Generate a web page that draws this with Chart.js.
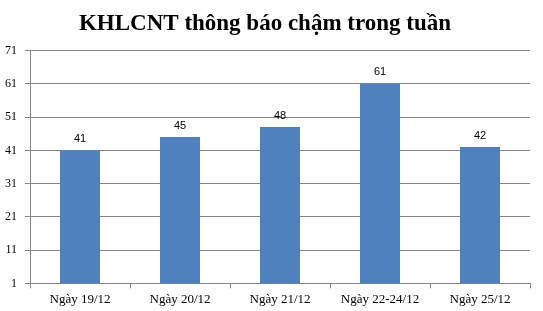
<!DOCTYPE html>
<html>
<head>
<meta charset="utf-8">
<script src="https://cdn.jsdelivr.net/npm/chart.js@4/dist/chart.umd.min.js"></script>
<style>
  html, body { margin: 0; padding: 0; background: #fff; }
  #wrap { width: 543px; height: 311px; }
</style>
</head>
<body>
<div id="wrap"><canvas id="chart"></canvas></div>
<script>
const categories = ["Ngày 19/12", "Ngày 20/12", "Ngày 21/12", "Ngày 22-24/12", "Ngày 25/12"];
const values = [41, 45, 48, 61, 42];
const yTicks = [1, 11, 21, 31, 41, 51, 61, 71];

const gridColor = "#868686";
const serif = "'Liberation Serif', 'Times New Roman', serif";

// số liệu trên đầu cột
const barLabels = {
  id: "barLabels",
  afterDatasetsDraw(chart) {
    const ctx = chart.ctx;
    const meta = chart.getDatasetMeta(0);
    ctx.save();
    ctx.font = "11px 'Liberation Sans', Arial, sans-serif";
    ctx.fillStyle = "#000";
    ctx.textAlign = "center";
    ctx.textBaseline = "bottom";
    meta.data.forEach((bar, i) => {
      ctx.fillText(String(values[i]), bar.x, bar.y - 6);
    });
    ctx.restore();
  },
};

new Chart(document.getElementById("chart"), {
  type: "bar",
  data: {
    labels: categories,
    datasets: [
      {
        data: values,
        backgroundColor: "#4f81bd",
        barPercentage: 0.4,
        categoryPercentage: 1,
      },
    ],
  },
  options: {
    responsive: true,
    maintainAspectRatio: false,
    animation: false,
    layout: { padding: { left: 0, right: 13, top: 0, bottom: 1 } },
    plugins: {
      legend: { display: false },
      tooltip: { enabled: false },
      title: {
        display: true,
        text: "KHLCNT thông báo chậm trong tuần",
        color: "#000",
        font: { family: serif, size: 23, weight: "bold" },
        padding: { top: 10, bottom: 13 },
      },
    },
    scales: {
      x: {
        grid: {
          offset: true,
          drawOnChartArea: false,
          drawTicks: true,
          tickLength: 5,
          color: gridColor,
        },
        border: { display: true, color: gridColor },
        ticks: {
          color: "#000",
          font: { family: serif, size: 13 },
          padding: 3,
          maxRotation: 0,
        },
      },
      y: {
        min: 1,
        max: 71,
        afterBuildTicks: (axis) => {
          axis.ticks = yTicks.map((v) => ({ value: v }));
        },
        afterFit: (axis) => {
          axis.width = 30;
        },
        grid: { color: gridColor, tickLength: 5 },
        border: { display: true, color: gridColor },
        ticks: {
          color: "#000",
          font: { family: serif, size: 12 },
          padding: 8,
        },
      },
    },
  },
  plugins: [barLabels],
});
</script>
</body>
</html>
